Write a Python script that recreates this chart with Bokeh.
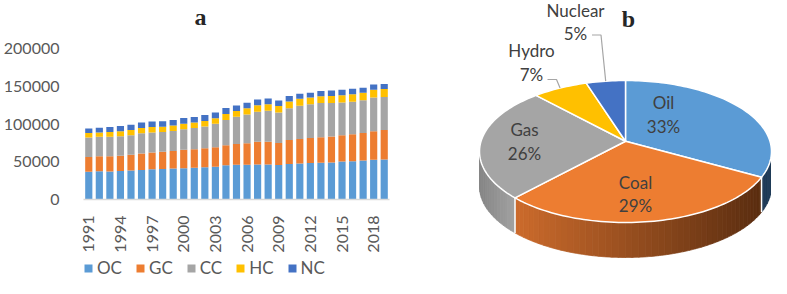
import math
from bokeh.plotting import figure
from bokeh.models import (Range1d, FixedTicker, NumeralTickFormatter, Legend, LegendItem,
                          Label, ColumnDataSource)
from bokeh.layouts import row, column
from bokeh.embed import file_html
from bokeh.resources import INLINE
from bokeh.core.properties import value

# ---------------- data ----------------
years = list(range(1991, 2020))
OC = [36600, 37400, 37000, 37800, 38300, 39100, 40000, 40400, 40900, 41300, 42100, 42600, 43400, 45200, 46000,
      46000, 46400, 46400, 45600, 46900, 47700, 48200, 48600, 49000, 50300, 50700, 51600, 52500, 52900]
GC = [19800, 19800, 20200, 20200, 21100, 21900, 22400, 22800, 23200, 24500, 24500, 25400, 25800, 26700, 27500,
      28400, 30100, 30100, 29200, 31800, 32300, 33100, 34000, 34400, 34800, 35700, 36600, 37800, 39100]
CC = [25800, 25800, 25800, 25800, 25800, 26700, 26200, 26200, 26700, 27100, 28000, 28800, 31000, 33500, 36100,
      38300, 39600, 40900, 40400, 42100, 44300, 44700, 45200, 44300, 43400, 43000, 43400, 44700, 43900]
HC = [6000, 5600, 6500, 6500, 6900, 6900, 7300, 6900, 7300, 7300, 7300, 7300, 7300, 7700, 7700,
      8200, 8600, 8600, 8600, 9000, 9000, 9000, 9000, 9500, 9500, 9900, 9900, 10300, 10300]
NC = [6000, 6500, 6500, 6900, 6900, 7300, 7300, 7300, 7300, 7700, 7300, 7700, 7700, 8200, 7300,
      7300, 7700, 7700, 7300, 7300, 6900, 6500, 6900, 7300, 7300, 7300, 6500, 6900, 6900]
series = ["OC", "GC", "CC", "HC", "NC"]
year_ticks = [1991, 1994, 1997, 2000, 2003, 2006, 2009, 2012, 2015, 2018]
y_ticks = [0, 50000, 100000, 150000, 200000]

pie_labels = ["Oil", "Coal", "Gas", "Hydro", "Nuclear"]
pie_pct = [33, 29, 26, 7, 5]

# ---------------- styles ----------------
colors = ["#5B9BD5", "#ED7D31", "#A5A5A5", "#FFC000", "#4472C4"]
AX_COL = "#595959"
TXT_COL = "#404040"
FONT = "Lato"

# ---------------- left: stacked bars ----------------
H = 278
LW = 424
LEG_H = 21
PH = H - LEG_H
TOP, BOTTOM = 0, 58           # frame borders (px)
AX_TOP_PX = 48                # pixel row (in figure) where 200000 sits
frame_h = PH - TOP - BOTTOM
y_end = y_ticks[-1] * frame_h / (PH - BOTTOM - AX_TOP_PX)

src = ColumnDataSource(dict(year=years, OC=OC, GC=GC, CC=CC, HC=HC, NC=NC))
p = figure(width=LW, height=PH, x_range=Range1d(1990.5, 2019.5), y_range=Range1d(0, y_end),
           output_backend="svg", toolbar_location=None,
           min_border_left=78, min_border_right=LW - 389, min_border_top=TOP, min_border_bottom=BOTTOM)
rs = p.vbar_stack(series, x="year", width=0.68, color=colors, line_color=None, source=src)
p.grid.visible = False
p.outline_line_color = None
p.yaxis.ticker = FixedTicker(ticks=y_ticks)
p.yaxis.formatter = NumeralTickFormatter(format="0")
p.yaxis.axis_line_color = None
p.yaxis.major_tick_line_color = None
p.yaxis.minor_tick_line_color = None
p.yaxis.major_label_standoff = 18
p.yaxis.major_label_text_font_size = "16px"
p.xaxis.ticker = FixedTicker(ticks=year_ticks)
p.xaxis.major_label_orientation = math.pi / 2
p.xaxis.axis_line_color = "#D9D9D9"
p.xaxis.axis_line_width = 1.5
p.xaxis.major_tick_line_color = None
p.xaxis.minor_tick_line_color = None
p.xaxis.major_label_standoff = 10
p.xaxis.major_label_text_font_size = "16px"
for ax in (p.xaxis, p.yaxis):
    ax.major_label_text_font = FONT
    ax.major_label_text_color = AX_COL


def ypx(px):
    return (PH - BOTTOM - px) * y_end / frame_h


p.add_layout(Label(x=2001.6, y=ypx(16), text="a",
                   text_font="Liberation Serif", text_font_style="bold", text_font_size="24px",
                   text_align="center", text_baseline="alphabetic", text_color="#262626"))

# legend strip under the bar chart (its bars fall outside this strip's range; only the legend shows)
lf = figure(width=LW, height=LEG_H, x_range=Range1d(0, 1), y_range=Range1d(0, 1),
            output_backend="svg", toolbar_location=None, min_border=0,
            x_axis_location=None, y_axis_location=None)
lf.grid.visible = False
lf.outline_line_color = None
leg_rs = lf.vbar_stack(series, x="year", width=0.68, color=colors, line_color=None, source=src)
legend = Legend(items=[LegendItem(label=s, renderers=[r]) for s, r in zip(series, leg_rs)],
                orientation="horizontal", location=(83, 0),
                label_text_font=FONT, label_text_font_size="17px", label_text_color=AX_COL,
                glyph_width=10, glyph_height=10, label_standoff=4, spacing=13,
                label_height=21, padding=0, margin=0,
                border_line_color=None, background_fill_alpha=0)
lf.add_layout(legend)

# ---------------- right: 3D pie ----------------
RW = 771 - LW
q = figure(width=RW, height=H, x_range=Range1d(LW, LW + RW), y_range=Range1d(H, 0),
           output_backend="svg", toolbar_location=None, min_border=0,
           x_axis_location=None, y_axis_location=None)
q.grid.visible = False
q.outline_line_color = None
for fig in (q, lf):
    if "frame_align" in fig.properties():
        fig.frame_align = False

CX, CY, RX, RY, T, DEPTH = 625.0, 151.0, 146.0, 71.0, -0.144, 35.0


def proj(frac, r=1.0):
    phi = 2 * math.pi * frac
    u = r * math.sin(phi)
    v = -r * math.cos(phi)
    d = 1 + T * v
    return CX + RX * u * math.sqrt(1 - T * T) / d, CY + RY * (v + T) / d


total = float(sum(pie_pct))
bounds = [0.0]
for v_ in pie_pct:
    bounds.append(bounds[-1] + v_ / total)

F0 = math.acos(T) / (2 * math.pi)
F1 = 1 - F0

side_ramp = {0: ("#1F3B58", "#1F3B58"), 1: ("#CC6B2C", "#5A2D10"), 2: ("#858585", "#A2A2A2"),
             3: ("#B38600", "#B38600"), 4: ("#2F5597", "#2F5597")}


def hex2rgb(h):
    return [int(h[i:i + 2], 16) for i in (1, 3, 5)]


def lerp_col(c1, c2, t):
    a, b = hex2rgb(c1), hex2rgb(c2)
    return "#%02x%02x%02x" % tuple(int(round(a[k] + (b[k] - a[k]) * t)) for k in range(3))


sx, sy, sc = [], [], []
for i in range(len(pie_pct)):
    a, b = max(bounds[i], F0), min(bounds[i + 1], F1)
    if a >= b:
        continue
    xl, xr = proj(b)[0], proj(a)[0]
    n = max(1, int((b - a) * 160))
    for k in range(n):
        f0 = a + (b - a) * k / n
        f1 = a + (b - a) * (k + 1) / n
        top = [proj(f0 + (f1 - f0) * j / 6) for j in range(7)]
        xs = [pt[0] for pt in top] + [pt[0] for pt in reversed(top)]
        ys = [pt[1] for pt in top] + [pt[1] + DEPTH for pt in reversed(top)]
        xm = sum(pt[0] for pt in top) / len(top)
        t = 0.5 if xr == xl else (xm - xl) / (xr - xl)
        col = lerp_col(side_ramp[i][0], side_ramp[i][1], min(1, max(0, t)))
        sx.append(xs); sy.append(ys); sc.append(col)
q.patches(sx, sy, fill_color=sc, line_color=sc, line_width=0.8)

# white edges between side pieces
ex0, ey0, ex1, ey1 = [], [], [], []
for f in bounds[1:-1]:
    if F0 < f < F1:
        x_, y_ = proj(f)
        ex0.append(x_); ey0.append(y_); ex1.append(x_); ey1.append(y_ + DEPTH)
q.segment(ex0, ey0, ex1, ey1, line_color="white", line_width=1.5)

# top faces
tx, ty = [], []
ax_, ay_ = proj(0, 0)
for i in range(len(pie_pct)):
    n = max(3, int((bounds[i + 1] - bounds[i]) * 240))
    arc = [proj(bounds[i] + (bounds[i + 1] - bounds[i]) * j / n) for j in range(n + 1)]
    tx.append([ax_] + [pt[0] for pt in arc])
    ty.append([ay_] + [pt[1] for pt in arc])
q.patches(tx, ty, fill_color=colors, line_color="white", line_width=1.5, line_join="round")

# labels
name_pos = [(663, 101.7), (635, 181.7), (524, 129.3), (531, 50), (575, 10)]
pct_pos = [(663, 126), (635, 205), (524, 153.3), (531, 74), (575, 33)]
lab_src = ColumnDataSource(dict(
    x=[pp[0] for pp in name_pos] + [pp[0] for pp in pct_pos],
    y=[pp[1] for pp in name_pos] + [pp[1] for pp in pct_pos],
    text=pie_labels + ["%d%%" % v_ for v_ in pie_pct]))
q.text(x="x", y="y", text="text", source=lab_src, text_font=value(FONT), text_font_size="17px",
       text_color=TXT_COL, text_align="center", text_baseline="middle")

# leader lines for the small slices (hydro, nuclear)
leader_start = {3: (547, 79), 4: (591.5, 34.5)}
leader_len = {3: 9, 4: 9}
for i, (lx, ly) in leader_start.items():
    ex, ey = proj((bounds[i] + bounds[i + 1]) / 2)
    q.line([lx, lx + leader_len[i], ex], [ly, ly, ey], line_color="#A6A6A6", line_width=1.2)

q.add_layout(Label(x=628, y=18, text="b", text_font="Liberation Serif", text_font_style="bold",
                   text_font_size="24px", text_align="center", text_baseline="alphabetic",
                   text_color="#262626"))

layout = row(column(p, lf), q)
open("out.html", "w").write(file_html(layout, INLINE))
